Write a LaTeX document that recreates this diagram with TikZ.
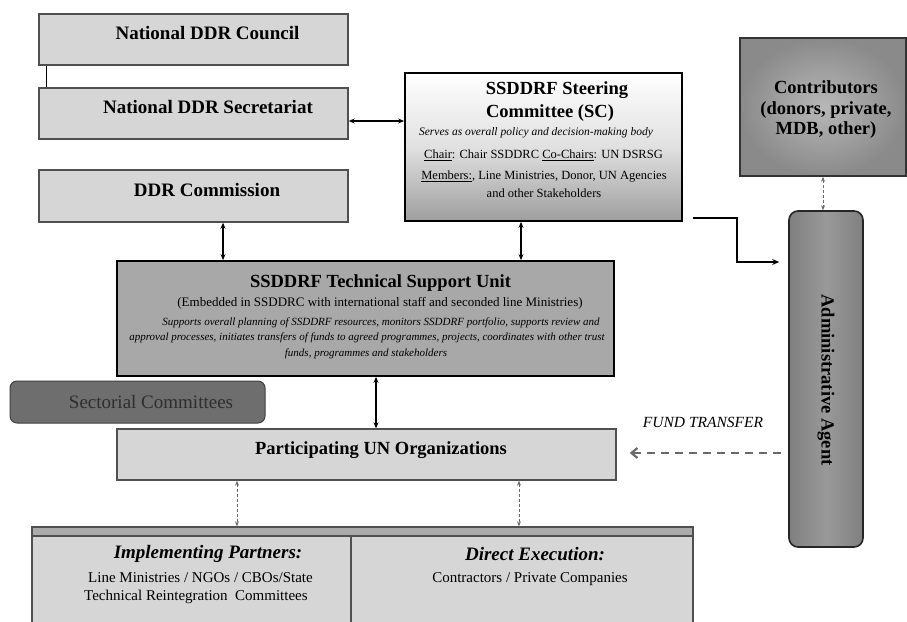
\documentclass[tikz,border=0pt]{standalone}
\usepackage{fontspec}
\setmainfont{Liberation Serif}
\usetikzlibrary{arrows.meta,calc,positioning}
\definecolor{lightbox}{HTML}{D6D6D6}
\definecolor{lightedge}{HTML}{505050}
\definecolor{tsufill}{HTML}{A8A8A8}
\definecolor{sectfill}{HTML}{6E6E6E}
\definecolor{sectext}{HTML}{2E2E2E}
\definecolor{dashgray}{HTML}{6A6A6A}
\tikzset{
  lbox/.style={draw=lightedge, line width=1.4pt, fill=lightbox, inner sep=0pt},
  titletext/.style={inner sep=0pt, anchor=base, font=\fontsize{19}{22}\selectfont\bfseries},
  dbl/.style={{Stealth[length=6pt,width=5pt]}-{Stealth[length=6pt,width=5pt]}, line width=1.2pt, black},
  dashdbl/.style={{Stealth[length=5pt,width=4pt]}-{Stealth[length=5pt,width=4pt]}, line width=0.9pt, dashgray, dash pattern=on 3pt off 2pt},
  plain/.style={inner sep=0pt, align=center},
}
\begin{document}
\begin{tikzpicture}[x=1pt,y=-1pt]
\useasboundingbox (0,0) rectangle (907,621);
\fill[white] (0,0) rectangle (907,621);

% left column
\node[lbox, minimum width=309pt, minimum height=51pt] (council) at (193.5,39.5) {};
\node[titletext] (counciltext) at (207.5,39.5) {National DDR Council};
\node[lbox, minimum width=309pt, minimum height=51pt] (secr) at (193.5,113.5) {};
\node[titletext] (secrtext) at (208,113.5) {National DDR Secretariat};
\node[lbox, minimum width=309pt, minimum height=52pt] (comm) at (193.5,196) {};
\node[titletext] (commtext) at (207,196) {DDR Commission};

% steering committee
\node[draw=black, line width=1.8pt, top color=white, bottom color=black!38, middle color=black!12,
      minimum width=277pt, minimum height=148pt, inner sep=0pt] (sc) at (543.5,147) {};
\node[titletext, font=\fontsize{18.5}{23}\selectfont\bfseries] (sctitle1) at (557,94) {SSDDRF Steering};
\node[titletext, font=\fontsize{18.5}{23}\selectfont\bfseries] (sctitle2) at (550,117) {Committee (SC)};
\node[plain, font=\fontsize{11.5}{13}\selectfont\itshape] (scserve) at (536,133) {Serves as overall policy and decision-making body};
\node[plain, font=\fontsize{12.5}{14}\selectfont] (scchair) at (543.5,155) {\underline{Chair}: Chair SSDDRC \underline{Co-Chairs}: UN DSRSG};
\node[plain, font=\fontsize{12.5}{18}\selectfont] (scmem) at (544,184) {\underline{Members:}, Line Ministries, Donor, UN Agencies\\and other Stakeholders};

% contributors
\node[draw=black!80, line width=1.6pt, inner color=black!28, outer color=black!46,
      minimum width=166pt, minimum height=138pt, inner sep=0pt] (contrib) at (823,107) {};
\node[plain, font=\fontsize{18.5}{20.5}\selectfont\bfseries] (contribtext) at (826,110) {Contributors\\(donors, private,\\MDB, other)};

% administrative agent
\node[draw=black!85, line width=1.6pt, rounded corners=9pt, left color=black!50, right color=black!50, middle color=black!40,
      minimum width=74pt, minimum height=336pt, inner sep=0pt] (admin) at (826,379) {};
\node[plain, rotate=-90, font=\fontsize{18.5}{20}\selectfont\bfseries] (admintext) at (826,380) {Administrative Agent};

% technical support unit
\node[draw=black, line width=1.8pt, fill=tsufill, minimum width=497pt, minimum height=115pt, inner sep=0pt] (tsu) at (365.5,318.5) {};
\node[plain, font=\fontsize{18.5}{21}\selectfont\bfseries] (tsutitle) at (380.5,283) {SSDDRF Technical Support Unit};
\node[plain, font=\fontsize{13}{15}\selectfont] (tsuemb) at (380,303) {(Embedded in SSDDRC with international staff and seconded line Ministries)};
\node[plain, font=\fontsize{11}{13}\selectfont\itshape] (tsul1) at (381,322.5) {Supports overall planning of SSDDRF resources, monitors SSDDRF portfolio, supports review and};
\node[plain, font=\fontsize{11}{13}\selectfont\itshape] (tsul2) at (367,338) {approval processes, initiates transfers of funds to agreed programmes, projects, coordinates with other trust};
\node[plain, font=\fontsize{11}{13}\selectfont\itshape] (tsul3) at (366,353.5) {funds, programmes and stakeholders};

% sectorial committees
\node[draw=black!75, line width=1pt, fill=sectfill, rounded corners=7pt, minimum width=255pt, minimum height=42pt,
      inner sep=0pt] (sect) at (137.5,402) {};
\node[inner sep=0pt, anchor=base, font=\fontsize{19}{22}\selectfont, text=sectext] (secttext) at (151,408.5) {Sectorial Committees};

% participating UN organizations
\node[lbox, minimum width=499pt, minimum height=51pt] (puno) at (366.5,454.5) {};
\node[titletext, font=\fontsize{18.5}{21}\selectfont\bfseries] (punotext) at (381,454.5) {Participating UN Organizations};

% bottom cells
\node[draw=lightedge, line width=1.4pt, fill=lightbox, minimum width=319pt, minimum height=100pt, inner sep=0pt] (impl) at (191.5,577) {};
\node[draw=lightedge, line width=1.4pt, fill=lightbox, minimum width=342pt, minimum height=100pt, inner sep=0pt] (direct) at (522,577) {};
\node[draw=lightedge, line width=1.4pt, fill=black!33, minimum width=661pt, minimum height=9pt, inner sep=0pt] (strip) at (362.5,531.5) {};
\node[plain, font=\fontsize{19}{22}\selectfont\itshape\bfseries] (impltitle) at (208,554) {Implementing Partners:};
\node[inner sep=0pt, align=left, anchor=west, font=\fontsize{15}{18}\selectfont] (impltext) at (84,588) {\hspace*{4pt}Line Ministries / NGOs / CBOs/State\\Technical Reintegration\ \ Committees};
\node[plain, font=\fontsize{19}{22}\selectfont\itshape\bfseries] (directtitle) at (535,554) {Direct Execution:};
\node[plain, font=\fontsize{15}{18}\selectfont] (directtext) at (530,579) {Contractors / Private Companies};

% fund transfer label
\node[plain, font=\fontsize{15.5}{18}\selectfont\itshape] (fundlabel) at (703,422) {FUND TRANSFER};

% connectors
\draw[line width=1.3pt] ([xshift=8pt]council.south west) -- ([xshift=8pt]secr.north west);
\draw[dbl] (secr.east |- 0,121) -- (sc.west |- 0,121);
\draw[dbl] (comm.south -| 223,0) -- (tsu.north -| 223,0);
\draw[dbl] (sc.south -| 521,0) -- (tsu.north -| 521,0);
\draw[dbl] (tsu.south -| 376,0) -- (puno.north -| 376,0);
\draw[dashdbl] (puno.south -| 237,0) -- (strip.north -| 237,0);
\draw[dashdbl] (puno.south -| 519,0) -- (strip.north -| 519,0);
\draw[dashdbl] (contrib.south -| 823,0) -- (admin.north -| 823,0);
\draw[line width=1.2pt, -{Stealth[length=7pt,width=6pt]}, shorten >=9pt, shorten <=10pt] (sc.east |- 0,218) -| (737,262) -- (admin.west |- 0,262);
\draw[line width=2.2pt, dashgray, dash pattern=on 8pt off 6pt, -{Straight Barb[length=6pt,width=10pt]}, shorten >=13pt, shorten <=7pt]
  (admin.west |- 0,453) -- (puno.east |- 0,453);
\end{tikzpicture}
\end{document}
